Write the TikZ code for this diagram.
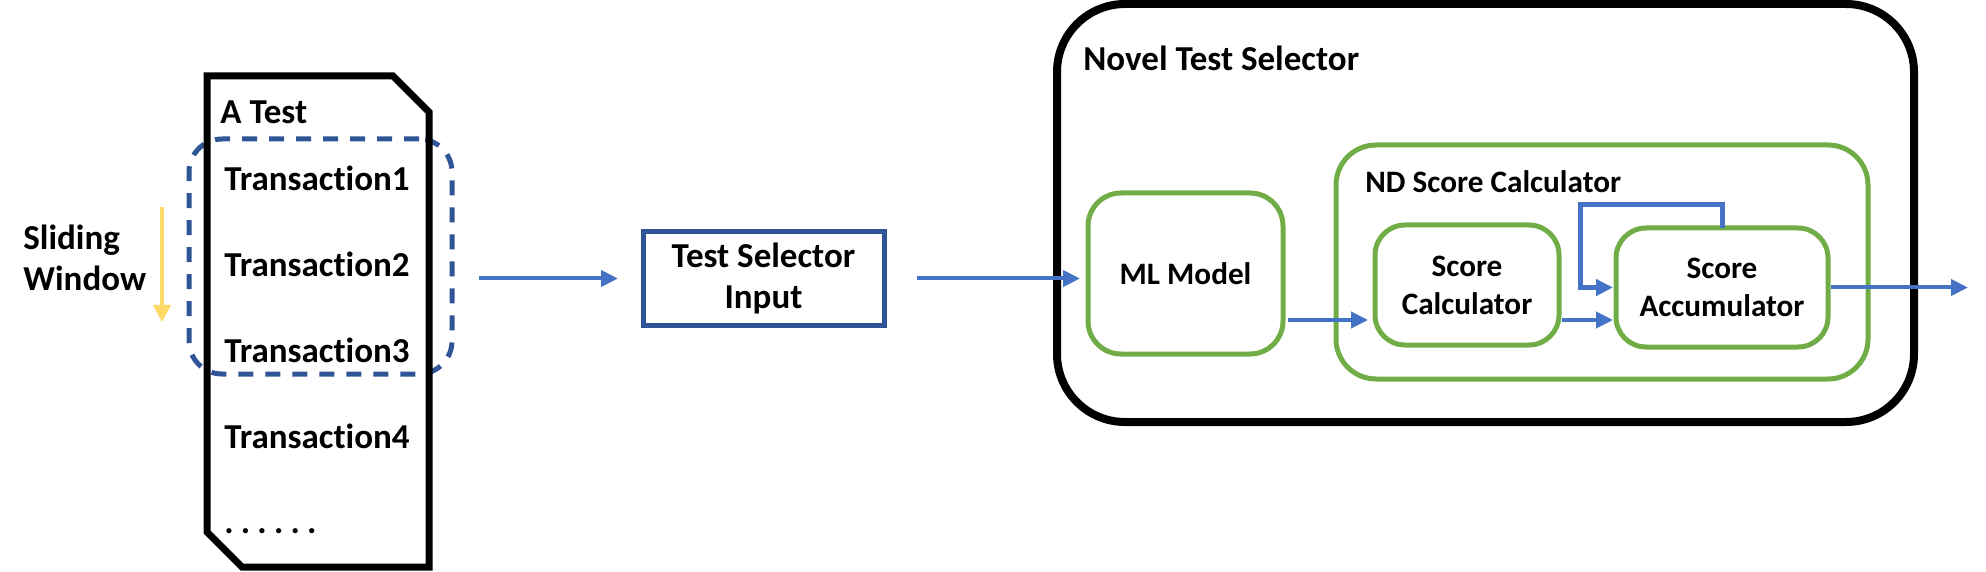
\documentclass[tikz,border=0pt]{standalone}
\usepackage{fontspec}
\setmainfont{Carlito}[Ligatures=NoCommon]
\usepackage{xcolor}
\usepackage{tikz}
\usetikzlibrary{arrows.meta, positioning, calc}
\definecolor{arrowblue}{RGB}{68,114,196}
\definecolor{boxnavy}{RGB}{47,85,151}
\definecolor{boxgreen}{RGB}{112,173,71}
\definecolor{slideyellow}{RGB}{255,217,102}

\begin{document}
\begin{tikzpicture}[
    x=0.5pt, y=-0.5pt,
    bigfont/.style={font=\fontsize{17.5}{20.5}\selectfont\bfseries},
    smallfont/.style={font=\fontsize{15.6}{19}\selectfont\bfseries},
    txt/.style={bigfont, inner sep=0pt, anchor=west, align=left},
    greenbox/.style={
        rectangle,
        rounded corners=15pt,
        draw=boxgreen,
        line width=2.5pt,
        align=center,
        smallfont,
        inner sep=0pt,
        outer sep=0pt
    },
    arrow/.style={-{Triangle[length=8.5pt,width=8pt]}, line width=2pt, draw=arrowblue}
]
\useasboundingbox (0,0) rectangle (1986,572);

% sliding window over the test
\node[draw=boxnavy, line width=2.5pt, dash pattern=on 7.5pt off 6pt, rounded corners=16.5pt,
      minimum width=131.5pt, minimum height=117.5pt, inner sep=0pt, outer sep=0pt] (window) at (320.5,256.5) {};
\draw[line width=3.5pt, line join=miter] (207,76) -- (393,76) -- (429,112) -- (429,567) -- (242,567) -- (207,532) -- cycle;

\node[txt] (atest) at (220,112) {A Test};
\foreach \i/\y in {1/178,2/264,3/350,4/436}
    \node[txt] (trans\i) at (224,\y) {Transaction\i};
\node[txt] (dots) at (224,531) {.\hspace{3.6pt}.\hspace{3.6pt}.\hspace{3.6pt}.\hspace{3.6pt}.\hspace{3.6pt}.};

\node[txt] (slide) at (23,257.5) {Sliding\\Window};
\coordinate (slidetop) at (162,207);
\coordinate (slidebot) at (162,322);
\draw[-{Triangle[length=8.5pt,width=8.5pt]}, line width=2pt, draw=slideyellow] (slidetop) -- (slidebot);

\node[draw=boxnavy, line width=2.5pt, minimum width=120.5pt, minimum height=46.5pt,
      bigfont, align=center, inner sep=0pt, outer sep=0pt] (tsi) at (763.5,278.5) {Test Selector\\Input};

% novel test selector
\node[draw=black, line width=4pt, rounded corners=34pt, minimum width=428.5pt, minimum height=209pt,
      inner sep=0pt, outer sep=0pt] (novel) at (1485.5,213) {};
\node[txt] (noveltitle) at (1083,58) {Novel Test Selector};

\node[greenbox, rounded corners=16.5pt, minimum width=97.5pt, minimum height=80.5pt] (ml) at (1185.5,273.5) {ML Model};

\node[greenbox, rounded corners=20pt, minimum width=266pt, minimum height=117pt] (nd) at (1602,262) {};
\node[txt, smallfont] (ndtitle) at (1365,182) {ND Score Calculator};

\node[greenbox, minimum width=92pt, minimum height=60pt] (sc) at (1467,285) {Score\\Calculator};
\node[greenbox, minimum width=106pt, minimum height=59.5pt] (acc) at (1722,287.5) {Score\\Accumulator};

\coordinate (sclow) at ([yshift=-17.5pt]sc.west);
\coordinate (out) at (1968,287.5);

\draw[arrow, shorten <=13.5pt, shorten >=12.5pt] (window.east |- tsi.west) -- (tsi.west);
\draw[arrow, shorten <=16.5pt, shorten >=4pt] (tsi.east) -- (ml.west |- tsi.east);
\draw[arrow, shorten <=2.5pt, shorten >=3.5pt] (ml.east |- sclow) -- (sclow);
\draw[arrow, shorten <=1.5pt, shorten >=1.5pt] (sclow -| sc.east) -- (sclow -| acc.west);
\draw[arrow, line width=2.5pt, shorten >=1.5pt] (acc.north) -- ++(0,-23) -| ([xshift=-18pt]acc.west) -- (acc.west);
\draw[arrow, shorten <=1.5pt] (acc.east) -- (out);

\end{tikzpicture}
\end{document}
